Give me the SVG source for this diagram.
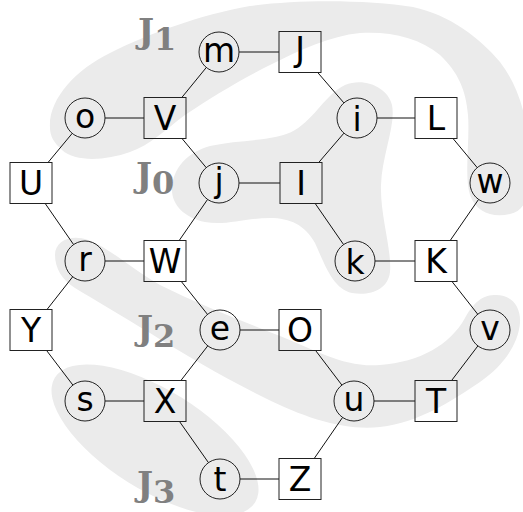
<svg xmlns="http://www.w3.org/2000/svg" width="523" height="512" viewBox="0 0 523 512">
<style>
.blob{fill:#ebebeb;stroke:none}
.lbl{font-family:"DejaVu Serif",serif;font-weight:bold;fill:#808080;font-size:34px}
.lbl .d{font-size:32px}
.edge{stroke:#111;stroke-width:1;fill:none}
.c{fill:none;stroke:#222;stroke-width:1}
.t{font-family:"DejaVu Sans",sans-serif;font-size:33px;fill:#000;text-anchor:middle}
</style>
<g id="groups">
<path id="J1-area" class="blob" d="M 50,128 C 48,100 75,70 110,53 C 150,33 200,15 250,6 C 300,-1 370,0 413,7 C 450,15 480,38 500,62 C 520,88 528,120 530,160 C 531,190 528,210 510,214 C 492,218 476,212 470,195 C 464,175 470,140 468,115 C 466,90 458,72 440,55 C 420,38 390,31 360,33 C 330,36 300,50 270,65 C 240,80 210,98 185,115 C 165,130 150,145 130,152 C 105,161 75,162 62,150 C 54,143 50,136 50,128 Z"/>
<path id="J0-area" class="blob" d="M 172,190 C 172,168 188,152 210,146 C 240,139 275,142 295,130 C 315,118 325,95 345,85 C 365,77 388,88 392,105 C 396,125 382,155 381,185 C 380,215 392,250 390,272 C 388,290 370,296 352,293 C 333,289 325,265 315,243 C 305,225 290,218 270,218 C 245,218 225,226 205,222 C 185,218 172,205 172,190 Z"/>
<path id="J2-area" class="blob" d="M 55,255 C 55,240 72,234 88,240 C 110,248 130,268 160,285 C 200,305 240,320 280,336 C 315,350 345,368 380,365 C 420,362 450,345 465,318 C 475,300 484,295 496,295 C 512,295 521,307 520,323 C 518,345 503,366 480,382 C 450,402 420,422 380,427 C 345,431 305,418 265,398 C 225,378 185,355 150,333 C 120,315 95,300 75,288 C 62,280 55,268 55,255 Z"/>
<ellipse id="J3-area" class="blob" cx="155" cy="440" rx="118" ry="50" transform="rotate(32 155 440)"/>
</g>
<g id="group-labels">
<text class="lbl" x="138" y="43">J<tspan class="d" dy="7">1</tspan></text>
<text class="lbl" x="136" y="187">J<tspan class="d" dy="7">0</tspan></text>
<text class="lbl" x="137" y="340">J<tspan class="d" dy="7">2</tspan></text>
<text class="lbl" x="137" y="496">J<tspan class="d" dy="7">3</tspan></text>
</g>
<g id="connectors">
<line class="edge" x1="239" y1="52" x2="279" y2="52"/>
<line class="edge" x1="206.3" y1="67.5" x2="181.8" y2="97.5"/>
<line class="edge" x1="105" y1="118" x2="144" y2="118"/>
<line class="edge" x1="72.2" y1="133.4" x2="48" y2="162.5"/>
<line class="edge" x1="182" y1="138.5" x2="206.2" y2="167.6"/>
<line class="edge" x1="239" y1="183" x2="280" y2="183"/>
<line class="edge" x1="207.6" y1="199.4" x2="179.2" y2="240.5"/>
<line class="edge" x1="317.7" y1="72.5" x2="343.9" y2="102.9"/>
<line class="edge" x1="377" y1="118" x2="415" y2="118"/>
<line class="edge" x1="343.9" y1="133.2" x2="318.7" y2="162.5"/>
<line class="edge" x1="315.2" y1="203.5" x2="343.6" y2="244.6"/>
<line class="edge" x1="453" y1="138.5" x2="477.2" y2="167.6"/>
<line class="edge" x1="478.6" y1="199.4" x2="450.2" y2="240.5"/>
<line class="edge" x1="375" y1="261" x2="415" y2="261"/>
<line class="edge" x1="45.2" y1="203.5" x2="73.6" y2="244.6"/>
<line class="edge" x1="105" y1="261" x2="144" y2="261"/>
<line class="edge" x1="72.7" y1="276.8" x2="47" y2="309.5"/>
<line class="edge" x1="181.3" y1="281.5" x2="207.5" y2="314.4"/>
<line class="edge" x1="240" y1="330" x2="279" y2="330"/>
<line class="edge" x1="207.8" y1="345.8" x2="180.9" y2="380.5"/>
<line class="edge" x1="46.6" y1="350.5" x2="72.9" y2="385.1"/>
<line class="edge" x1="105" y1="401" x2="144" y2="401"/>
<line class="edge" x1="179.5" y1="421.5" x2="208.5" y2="462.7"/>
<line class="edge" x1="240" y1="479" x2="279" y2="479"/>
<line class="edge" x1="315.6" y1="350.5" x2="341.9" y2="385.1"/>
<line class="edge" x1="374" y1="401" x2="415" y2="401"/>
<line class="edge" x1="342.6" y1="417.4" x2="314.2" y2="458.5"/>
<line class="edge" x1="452" y1="281.5" x2="477.7" y2="314.2"/>
<line class="edge" x1="477.9" y1="345.9" x2="451.6" y2="380.5"/>
</g>
<g id="node-m"><circle class="c" cx="219" cy="52" r="20"/><text class="t" x="219" y="61.5">m</text></g>
<g id="node-J"><rect class="c" x="279" y="31.5" width="42" height="41"/><text class="t" x="300" y="60.7">J</text></g>
<g id="node-o"><circle class="c" cx="85" cy="118" r="20"/><text class="t" x="85" y="127.5">o</text></g>
<g id="node-V"><rect class="c" x="144" y="97.5" width="42" height="41"/><text class="t" x="165" y="130">V</text></g>
<g id="node-i"><circle class="c" cx="357" cy="118" r="20"/><text class="t" x="357" y="130.5">i</text></g>
<g id="node-L"><rect class="c" x="415" y="97.5" width="42" height="41"/><text class="t" x="436" y="130">L</text></g>
<g id="node-U"><rect class="c" x="10" y="162.5" width="42" height="41"/><text class="t" x="31" y="195">U</text></g>
<g id="node-j"><circle class="c" cx="219" cy="183" r="20"/><text class="t" x="219" y="192">j</text></g>
<g id="node-I"><rect class="c" x="280" y="162.5" width="42" height="41"/><text class="t" x="301" y="195">I</text></g>
<g id="node-w"><circle class="c" cx="490" cy="183" r="20"/><text class="t" x="490" y="192.5">w</text></g>
<g id="node-r"><circle class="c" cx="85" cy="261" r="20"/><text class="t" x="85" y="270.5">r</text></g>
<g id="node-W"><rect class="c" x="144" y="240.5" width="42" height="41"/><text class="t" x="165" y="273">W</text></g>
<g id="node-k"><circle class="c" cx="355" cy="261" r="20"/><text class="t" x="355" y="273.5">k</text></g>
<g id="node-K"><rect class="c" x="415" y="240.5" width="42" height="41"/><text class="t" x="436" y="273">K</text></g>
<g id="node-Y"><rect class="c" x="10" y="309.5" width="42" height="41"/><text class="t" x="31" y="342">Y</text></g>
<g id="node-e"><circle class="c" cx="220" cy="330" r="20"/><text class="t" x="220" y="339.5">e</text></g>
<g id="node-O"><rect class="c" x="279" y="309.5" width="42" height="41"/><text class="t" x="300" y="342">O</text></g>
<g id="node-v"><circle class="c" cx="490" cy="330" r="20"/><text class="t" x="490" y="339.5">v</text></g>
<g id="node-s"><circle class="c" cx="85" cy="401" r="20"/><text class="t" x="85" y="410.5">s</text></g>
<g id="node-X"><rect class="c" x="144" y="380.5" width="42" height="41"/><text class="t" x="165" y="413">X</text></g>
<g id="node-u"><circle class="c" cx="354" cy="401" r="20"/><text class="t" x="354" y="410.5">u</text></g>
<g id="node-T"><rect class="c" x="415" y="380.5" width="42" height="41"/><text class="t" x="436" y="413">T</text></g>
<g id="node-t"><circle class="c" cx="220" cy="479" r="20"/><text class="t" x="220" y="490.5">t</text></g>
<g id="node-Z"><rect class="c" x="279" y="458.5" width="42" height="41"/><text class="t" x="300" y="491">Z</text></g>
</svg>
